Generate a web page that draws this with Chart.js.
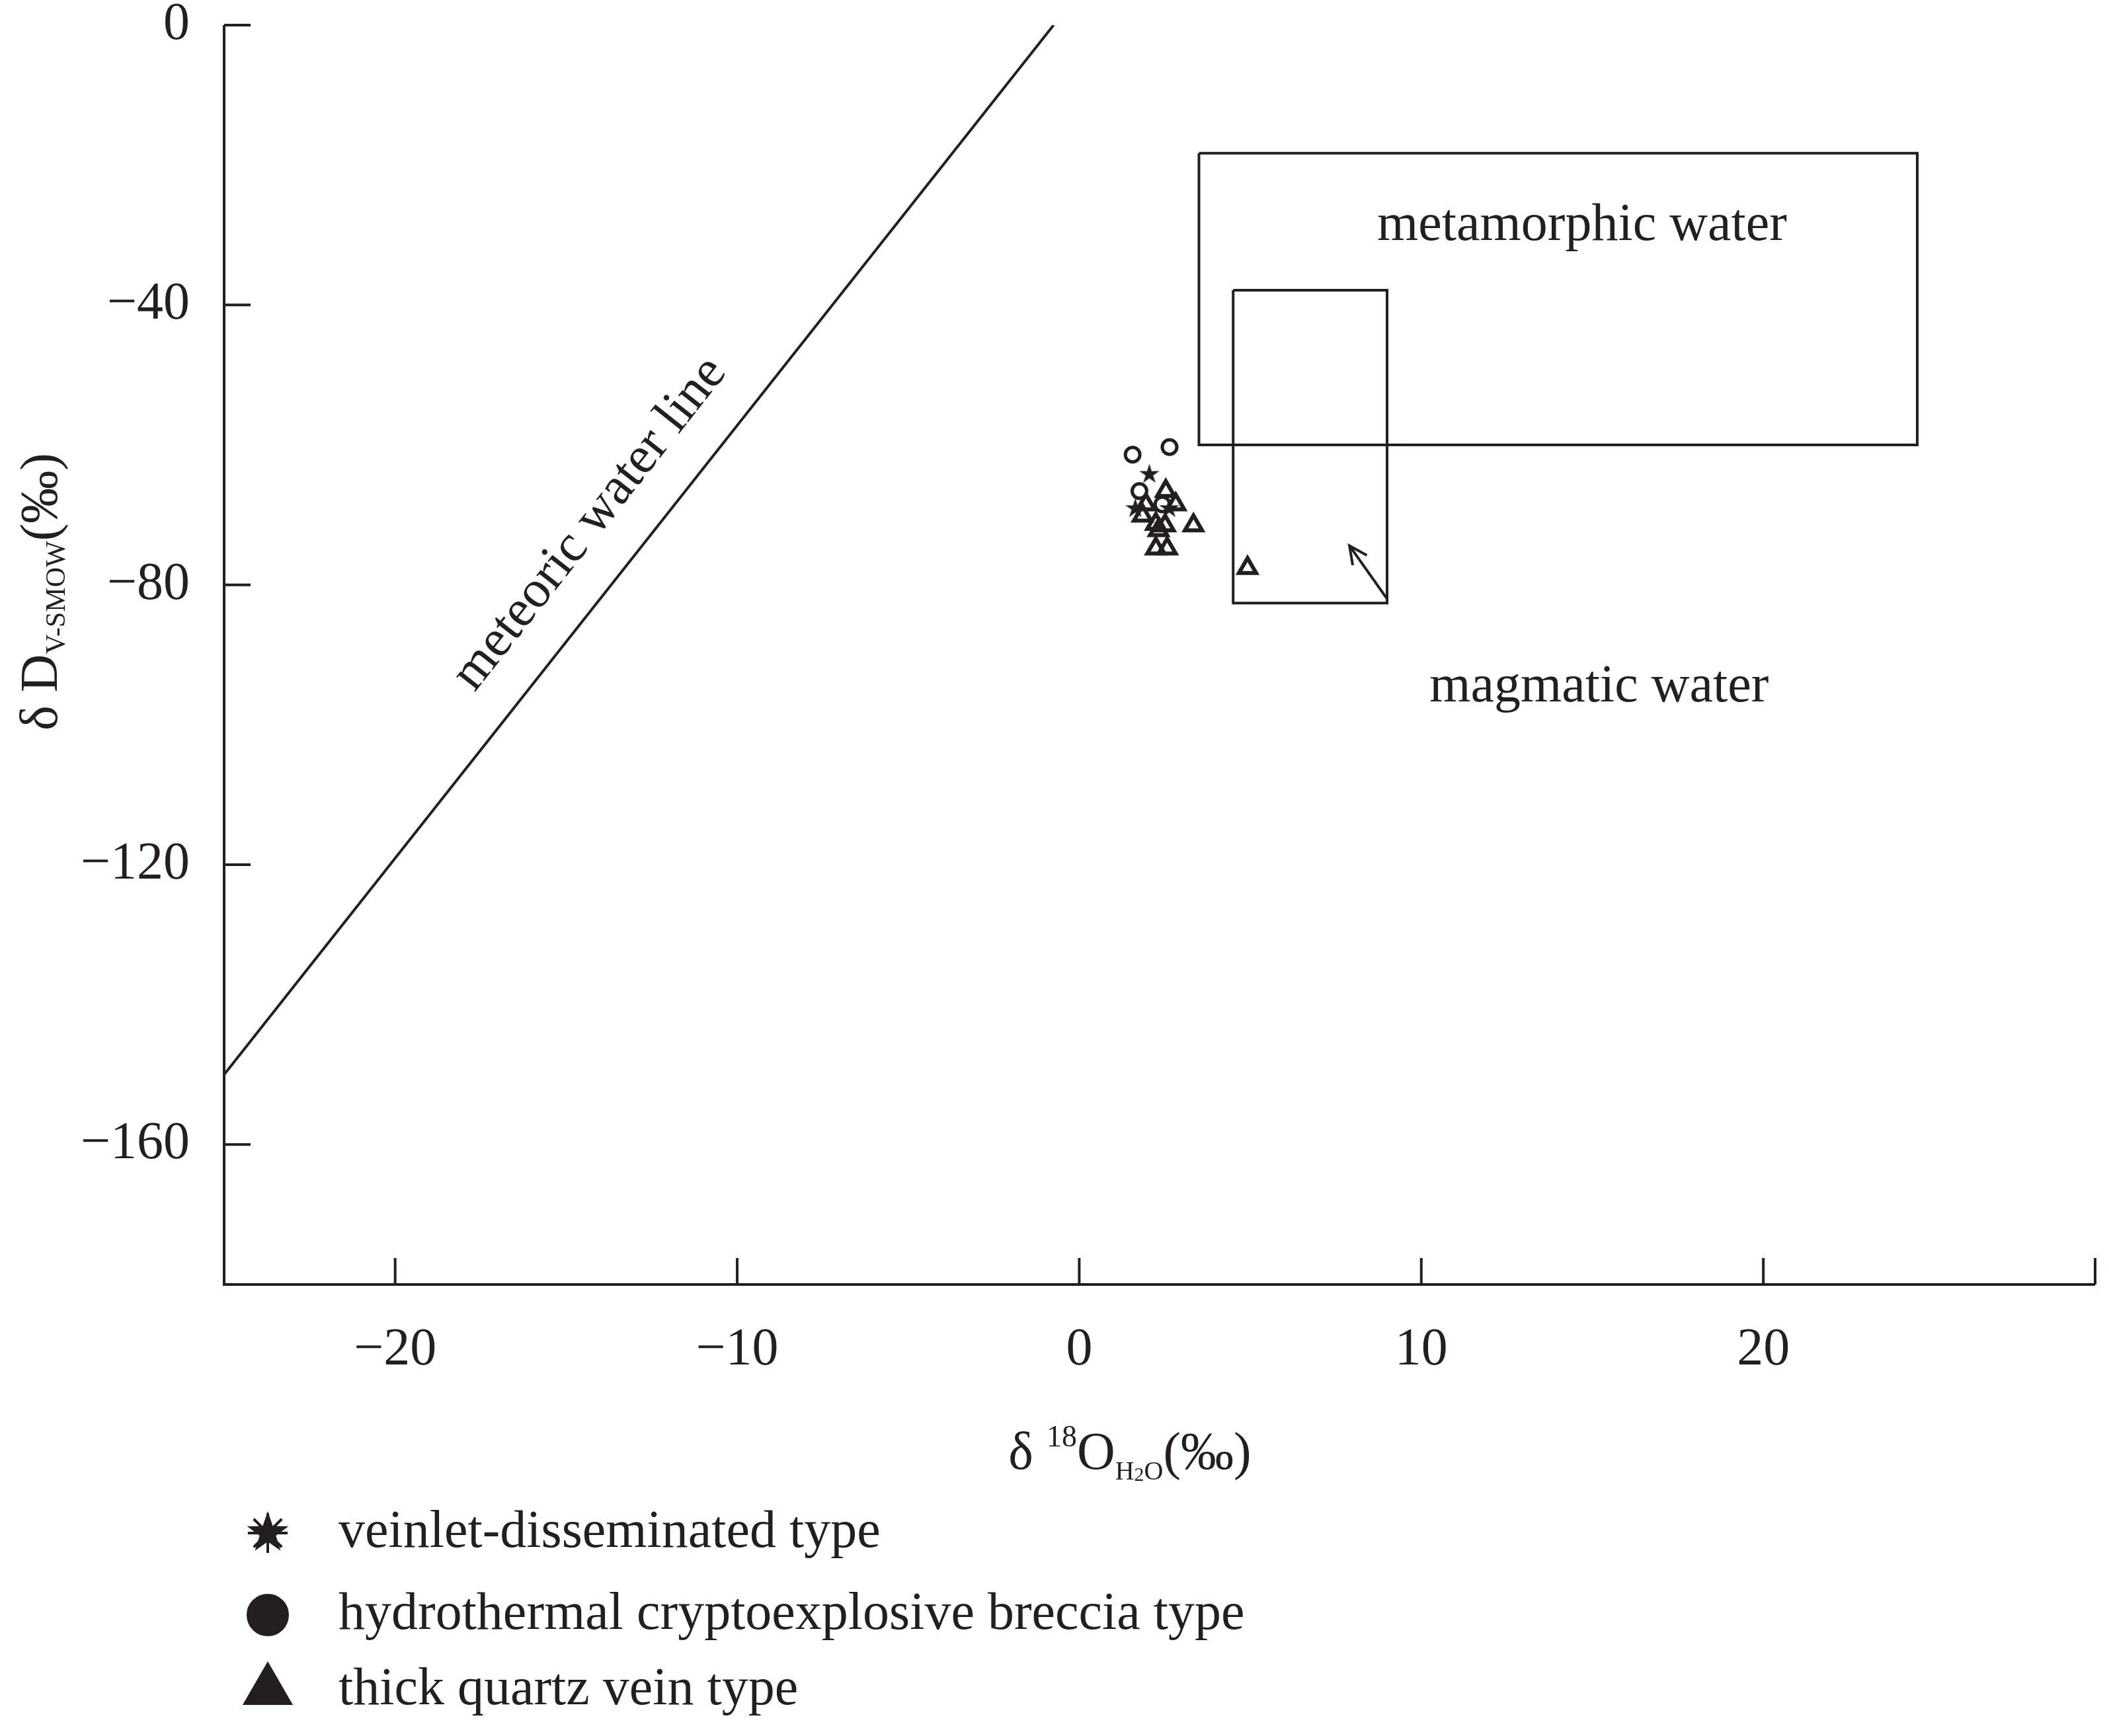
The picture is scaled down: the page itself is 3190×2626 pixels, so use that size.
<!DOCTYPE html>
<html><head><meta charset="utf-8">
<script src="https://cdn.jsdelivr.net/npm/chart.js@4"></script>
<style>html,body{margin:0;padding:0;background:#fff}canvas{display:block}</style>
</head><body>
<div style="width:3190px;height:2626px"><canvas id="c"></canvas></div>
<script>
const xTicks = [-20, -10, 0, 10, 20];
const yTicks = [0, -40, -80, -120, -160];
const starPts = [[2.05,-64.2],[1.64,-69.1],[2.63,-69.1]];
const circlePts = [[1.56,-61.4],[2.64,-60.3],[1.76,-66.6],[2.43,-68.5]];
const trianglePts = [[2.53,-66.6],[1.95,-68.5],[2.82,-68.5],[1.85,-70.1],[2.24,-71.3],[2.51,-71.5],[2.32,-72.2],[3.34,-71.5],[2.24,-74.8],[2.57,-74.8],[4.92,-77.6]];
const meteoricLine = [[-25,-150],[-0.75,0]];
const metamorphicBox = [[3.5,-18.3],[24.5,-18.3],[24.5,-60],[3.5,-60],[3.5,-18.3]];
const magmaticBox = [[4.5,-37.9],[9,-37.9],[9,-82.6],[4.5,-82.6],[4.5,-37.9]];
const arrowPts = [[9.0,-82],[7.9,-74.4]];
const legendLabels = ['veinlet-disseminated type','hydrothermal cryptoexplosive breccia type','thick quartz vein type'];
const C = '#231f20';
const toXY = a => a.map(p => ({x:p[0], y:p[1]}));
const lineDs = (d) => ({type:'line', data:toXY(d), borderColor:C, borderWidth:4, pointRadius:0, fill:false, tension:0});

const plugin = {
  id:'deco',
  afterDraw(chart){
    const ctx = chart.ctx, xs = chart.scales.x, ys = chart.scales.y, a = chart.chartArea;
    ctx.save();
    ctx.strokeStyle = C; ctx.fillStyle = C; ctx.lineWidth = 4;
    // axes
    ctx.beginPath(); ctx.moveTo(a.left, a.top); ctx.lineTo(a.left, a.bottom); ctx.lineTo(a.right, a.bottom); ctx.stroke();
    ctx.beginPath(); ctx.moveTo(a.left, a.top); ctx.lineTo(a.left+40, a.top); ctx.stroke();
    ctx.beginPath(); ctx.moveTo(a.right, a.bottom); ctx.lineTo(a.right, a.bottom-40); ctx.stroke();
    ctx.font = '80px "Liberation Serif"';
    ctx.textAlign = 'right'; ctx.textBaseline = 'middle';
    yTicks.forEach(v => { const py = ys.getPixelForValue(v);
      ctx.beginPath(); ctx.moveTo(a.left, py); ctx.lineTo(a.left+40, py); ctx.stroke();
      ctx.fillText(v===0?'0':'\u2212'+Math.abs(v), a.left-52, py); });
    ctx.textAlign = 'center'; ctx.textBaseline = 'top';
    xTicks.forEach(v => { const px = xs.getPixelForValue(v);
      ctx.beginPath(); ctx.moveTo(px, a.bottom); ctx.lineTo(px, a.bottom-40); ctx.stroke();
      ctx.fillText(v<0?'\u2212'+Math.abs(v):String(v), px, a.bottom+60); });
    // region labels
    ctx.font = '80px "Liberation Serif"'; ctx.textBaseline = 'middle';
    ctx.fillText('metamorphic water', xs.getPixelForValue(14.7), ys.getPixelForValue(-28.7));
    ctx.fillText('magmatic water', xs.getPixelForValue(15.2), ys.getPixelForValue(-94.7));
    ctx.save();
    ctx.translate(xs.getPixelForValue(-14.3), ys.getPixelForValue(-71.3));
    ctx.rotate(-51.7*Math.PI/180);
    ctx.fillText('meteoric water line', 0, 0);
    ctx.restore();
    // arrow head
    const x1 = xs.getPixelForValue(arrowPts[0][0]), y1 = ys.getPixelForValue(arrowPts[0][1]);
    const x2 = xs.getPixelForValue(arrowPts[1][0]), y2 = ys.getPixelForValue(arrowPts[1][1]);
    const ang = Math.atan2(y2-y1, x2-x1);
    ctx.beginPath();
    ctx.moveTo(x2 - 30*Math.cos(ang-0.45), y2 - 30*Math.sin(ang-0.45));
    ctx.lineTo(x2, y2);
    ctx.lineTo(x2 - 30*Math.cos(ang+0.45), y2 - 30*Math.sin(ang+0.45));
    ctx.stroke();
    // x title
    const seq = [['δ ',80,0],['18',46,-34],['O',80,0],['H',40,16],['2',30,18],['O',40,16],['(‰)',80,0]];
    let tw = 0; seq.forEach(s => { ctx.font = s[1]+'px "Liberation Serif"'; tw += ctx.measureText(s[0]).width; });
    let cx = 1709 - tw/2; ctx.textAlign='left'; ctx.textBaseline='alphabetic';
    seq.forEach(s => { ctx.font = s[1]+'px "Liberation Serif"'; ctx.fillText(s[0], cx, 2222+s[2]); cx += ctx.measureText(s[0]).width; });
    // y title
    ctx.save(); ctx.translate(86, 895); ctx.rotate(-Math.PI/2);
    const seqY = [['δ D',80,0],['V-SMOW',42,12],['(‰)',80,0]];
    tw = 0; seqY.forEach(s => { ctx.font = s[1]+'px "Liberation Serif"'; tw += ctx.measureText(s[0]).width; });
    cx = -tw/2;
    seqY.forEach(s => { ctx.font = s[1]+'px "Liberation Serif"'; ctx.fillText(s[0], cx, s[2]); cx += ctx.measureText(s[0]).width; });
    ctx.restore();
    // legend
    const ly = [2319, 2443, 2557], styles = ['star','circle','triangle'];
    ctx.font = '80px "Liberation Serif"'; ctx.textBaseline='middle'; ctx.textAlign='left';
    styles.forEach((st,i) => {
      Chart.helpers.drawPoint(ctx, {pointStyle: st, radius: st==='triangle'?40:30, rotation:0, borderWidth:5}, 405, ly[i]);
      if (st==='star') { // filled star
        ctx.beginPath();
        for (let k=0;k<10;k++){ const r = k%2?13:33, t = -Math.PI/2 + k*Math.PI/5; ctx.lineTo(405+r*Math.cos(t), ly[i]+r*Math.sin(t)); }
        ctx.closePath(); ctx.fill();
      }
      ctx.fillStyle = C;
      ctx.fillText(legendLabels[i], 512, ly[i]);
    });
    ctx.restore();
  }
};

const starDraw = (() => { const c = document.createElement('canvas'); c.width=c.height=34; const g=c.getContext('2d'); g.fillStyle=C; g.beginPath();
  for (let k=0;k<10;k++){ const r=k%2?6:16, t=-Math.PI/2+k*Math.PI/5; g.lineTo(17+r*Math.cos(t),17+r*Math.sin(t)); } g.closePath(); g.fill(); return c; })();

new Chart(document.getElementById('c'), {
  type:'scatter',
  data:{datasets:[
    lineDs(meteoricLine), lineDs(metamorphicBox), lineDs(magmaticBox), lineDs(arrowPts),
    {data:toXY(circlePts), pointStyle:'circle', pointRadius:11, borderColor:C, backgroundColor:'rgba(0,0,0,0)', borderWidth:5},
    {data:toXY(trianglePts), pointStyle:'triangle', pointRadius:15, borderColor:C, backgroundColor:'rgba(0,0,0,0)', borderWidth:6},
    {data:toXY(starPts), pointStyle:starDraw, pointRadius:16}
  ]},
  options:{
    responsive:true, maintainAspectRatio:false, animation:false, devicePixelRatio:1,
    layout:{padding:{left:339, top:38, right:21, bottom:683}},
    plugins:{legend:{display:false}, tooltip:{enabled:false}},
    scales:{
      x:{type:'linear', min:-25, max:29.7, display:false},
      y:{type:'linear', min:-180, max:0, display:false}
    }
  },
  plugins:[plugin]
});
</script>
</body></html>
